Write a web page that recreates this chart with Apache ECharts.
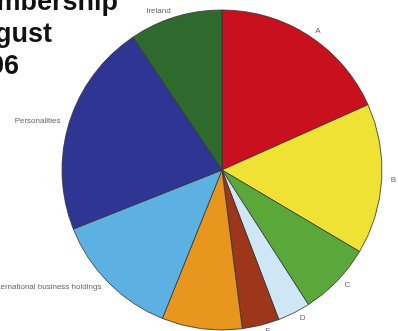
<!DOCTYPE html>
<html>
<head>
<meta charset="utf-8">
<script src="https://cdn.jsdelivr.net/npm/echarts@6/dist/echarts.min.js"></script>
<style>html,body{margin:0;padding:0;background:#fff;}#c{width:398px;height:331px;}</style>
</head>
<body>
<div id="c"></div>
<script>
const categories = ["A", "B", "C", "D", "E", "F", "International business holdings", "Personalities", "Ireland"];
const values = [18.3, 15.2, 7.4, 3.3, 3.75, 8.1, 12.9, 21.6, 9.4];
const colors = ["#c8101e", "#f0e234", "#5aa83a", "#cfe6f4", "#9e361c", "#e8961e", "#5cb0e2", "#2e3592", "#2e6a2e"];
const titleText = "Membership\nAugust\n1996";

const chart = echarts.init(document.getElementById('c'), null, {renderer: 'canvas'});
chart.setOption({
  animation: false,
  backgroundColor: '#ffffff',
  title: {
    text: titleText,
    left: -41,
    top: -13,
    padding: 0,
    textStyle: {fontFamily: 'Liberation Sans, Arial, sans-serif', fontWeight: 'bold', fontSize: 27, lineHeight: 32, color: '#111'}
  },
  series: [{
    type: 'pie',
    center: [222, 170],
    radius: 160,
    startAngle: 90,
    clockwise: true,
    avoidLabelOverlap: false,
    data: categories.map((n, i) => ({name: n, value: values[i], itemStyle: {color: colors[i]}})),
    itemStyle: {borderColor: '#333', borderWidth: 0.8},
    label: {show: true, position: 'outside', fontSize: 8, color: '#666', fontFamily: 'Liberation Sans, Arial, sans-serif', distanceToLabelLine: 3},
    labelLine: {show: false, length: 6, length2: 0},
    emphasis: {disabled: true}
  }]
});
</script>
</body>
</html>
